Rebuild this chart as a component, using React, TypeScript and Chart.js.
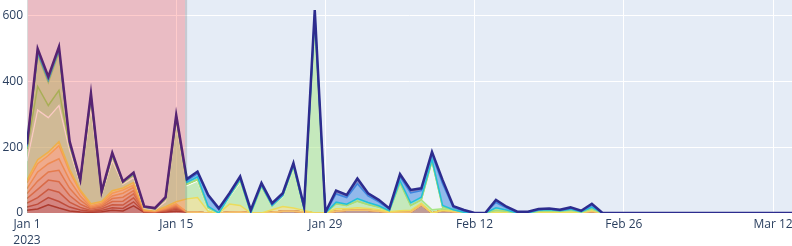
import React, { useEffect, useRef } from "react";
import { Chart, registerables } from "chart.js";

Chart.register(...registerables);

// ---- axis / layout constants ----
const X_TICKS = [0, 14, 28, 42, 56, 70];
const X_TICK_LABELS: (string | string[])[] = [["Jan 1", "2023"], "Jan 15", "Jan 29", "Feb 12", "Feb 26", "Mar 12"];
const Y_TICKS = [0, 200, 400, 600];
const X_MAX = 71.78;
const Y_MAX = 648;
const SHADE_START = 0;
const SHADE_END = 14.93;
const TAIL_DAY = 72;

// ---- series values, one value per day starting Jan 1 2023 (bottom layer first) ----
const W1 = [8, 12, 25, 15, 6, 3, 2, 4, 8, 6, 22, 2, 1, 3, 6,
  3, 2, 0, 0, 2, 3, 0, 0, 2, 5, 5, 3, 0, 0, 5, 8, 8, 8, 5, 2, 2, 3, 25, 0, 8, 4, 2, 0, 0, 3, 2, 0, 0, 2, 3, 2, 3, 1, 5, 0, 0];
const W2 = [10, 15, 22, 20, 12, 6, 3, 4, 8, 8, 12, 1, 1, 2, 5,
  0, 0, 0, 0, 0, 0, 0, 0, 0, 0, 0, 0, 0, 0, 0, 0, 0, 0, 0, 0, 0, 0, 0, 0, 0, 0, 0, 0, 0, 0, 0, 0, 0, 0, 0, 0, 0, 0, 0, 0, 0];
const W3 = [12, 20, 25, 28, 15, 8, 3, 5, 9, 10, 12, 1, 1, 2, 4,
  0, 0, 0, 0, 0, 0, 0, 0, 0, 0, 0, 0, 0, 0, 0, 0, 0, 0, 0, 0, 0, 0, 0, 0, 0, 0, 0, 0, 0, 0, 0, 0, 0, 0, 0, 0, 0, 0, 0, 0, 0];
const W4 = [14, 25, 28, 32, 20, 10, 4, 5, 10, 12, 12, 1, 1, 2, 4,
  0, 0, 0, 0, 0, 0, 0, 0, 0, 0, 0, 0, 0, 0, 0, 0, 0, 0, 0, 0, 0, 0, 0, 0, 0, 0, 0, 0, 0, 0, 0, 0, 0, 0, 0, 0, 0, 0, 0, 0, 0];
const W5 = [15, 25, 25, 35, 22, 12, 3, 4, 9, 12, 10, 1, 0, 2, 3,
  0, 0, 0, 0, 0, 0, 0, 0, 0, 0, 0, 0, 0, 0, 0, 0, 0, 0, 0, 0, 0, 0, 0, 0, 0, 0, 0, 0, 0, 0, 0, 0, 0, 0, 0, 0, 0, 0, 0, 0, 0];
const W6 = [15, 28, 25, 35, 25, 13, 3, 4, 8, 12, 10, 1, 1, 2, 3,
  0, 0, 0, 0, 0, 0, 0, 0, 0, 0, 0, 0, 0, 0, 0, 0, 0, 0, 0, 0, 0, 0, 0, 0, 0, 0, 0, 0, 0, 0, 0, 0, 0, 0, 0, 0, 0, 0, 0, 0, 0];
const W7 = [18, 25, 25, 40, 25, 13, 4, 4, 8, 10, 7, 1, 0, 2, 3,
  0, 0, 0, 0, 0, 0, 0, 0, 0, 0, 0, 0, 0, 0, 0, 0, 0, 0, 0, 0, 0, 0, 0, 0, 0, 0, 0, 0, 0, 0, 0, 0, 0, 0, 0, 0, 0, 0, 0, 0, 0];
const YEL = [8, 12, 10, 12, 8, 5, 6, 5, 8, 6, 8, 2, 2, 4, 6,
  40, 45, 5, 0, 25, 20, 0, 0, 8, 15, 10, 5, 0, 0, 8, 5, 8, 6, 5, 2, 5, 5, 5, 0, 0, 3, 0, 0, 0, 0, 0, 0, 0, 0, 0, 0, 0, 0, 3, 0, 0];
const GRN = [57, 151, 105, 110, 57, 20, 292, 20, 92, 12, 15, 4, 3, 16, 236,
  40, 50, 8, 0, 22, 70, 0, 78, 13, 30, 120, 5, 585, 0, 15, 10, 20, 12, 8, 3, 85, 15, 10, 10, 5, 3, 0, 0, 0, 5, 3, 0, 0, 3, 4, 3, 5, 2, 4, 0, 0];
const PALE = [0, 0, 0, 0, 0, 0, 0, 0, 0, 0, 0, 0, 0, 0, 0,
  0, 0, 0, 0, 0, 0, 0, 0, 0, 0, 0, 0, 0, 0, 0, 0, 0, 0, 0, 0, 0, 0, 0, 145, 5, 0, 0, 0, 0, 0, 0, 0, 0, 0, 0, 0, 0, 0, 0, 0, 0];
const GRN2 = [38, 72, 37, 46, 15, 6, 25, 5, 12, 4, 8, 3, 2, 7, 15,
  5, 5, 2, 0, 3, 5, 0, 2, 0, 3, 5, 0, 5, 0, 0, 0, 0, 0, 0, 0, 0, 0, 0, 3, 0, 0, 0, 0, 0, 0, 0, 0, 0, 0, 0, 0, 0, 0, 0, 0, 0];
const GRN3 = [4, 95, 70, 115, 3, 1, 8, 1, 3, 1, 2, 0, 0, 2, 5,
  0, 0, 0, 0, 0, 0, 0, 0, 0, 0, 0, 0, 0, 0, 0, 0, 0, 0, 0, 0, 0, 0, 0, 0, 0, 0, 0, 0, 0, 0, 0, 0, 0, 0, 0, 0, 0, 0, 0, 0, 0];
const CYAN = [3, 6, 6, 6, 3, 1, 3, 1, 2, 1, 1, 1, 1, 1, 3,
  5, 8, 5, 0, 0, 5, 0, 4, 0, 0, 4, 0, 8, 0, 5, 4, 8, 6, 4, 0, 6, 8, 8, 5, 5, 0, 0, 0, 0, 8, 4, 0, 0, 3, 3, 2, 3, 1, 5, 0, 0];
const BLUE = [3, 8, 7, 7, 4, 2, 4, 2, 3, 1, 2, 1, 1, 2, 2,
  5, 10, 30, 10, 4, 4, 5, 3, 3, 3, 4, 3, 10, 0, 25, 20, 45, 20, 12, 4, 12, 30, 20, 15, 65, 6, 4, 0, 0, 16, 6, 2, 2, 2, 2, 1, 3, 1, 6, 0, 0];
const NAVY = [4, 6, 5, 5, 3, 1, 3, 1, 3, 1, 2, 1, 1, 1, 3,
  5, 6, 5, 4, 4, 4, 4, 4, 4, 4, 4, 4, 9, 2, 10, 8, 16, 8, 6, 3, 8, 9, 7, 8, 12, 5, 3, 0, 0, 8, 4, 2, 2, 2, 2, 2, 3, 2, 5, 0, 0];

const SERIES = [
  { values: W1, color: "#9a4a3a", width: 1.5 },
  { values: W2, color: "#b0604a", width: 1.5 },
  { values: W3, color: "#c07252", width: 1.5 },
  { values: W4, color: "#d0865a", width: 1.5 },
  { values: W5, color: "#de9a62", width: 1.5 },
  { values: W6, color: "#eaae68", width: 1.5 },
  { values: W7, color: "#f4c06c", width: 1.5 },
  { values: YEL, color: "#ecdc5a", width: 1.5 },
  { values: GRN, color: "#a6e682", width: 1.5 },
  { values: PALE, color: "#f8fbf6", width: 1.5 },
  { values: GRN2, color: "#94da6c", width: 1.5 },
  { values: GRN3, color: "#a9dc78", width: 1.5 },
  { values: CYAN, color: "#22c0d8", width: 1.5 },
  { values: BLUE, color: "#3d85e0", width: 1.5 },
  { values: NAVY, color: "#2d2c8e", width: 2.5 },
];

function rgba(hex: string, a: number) {
  const n = parseInt(hex.slice(1), 16);
  return `rgba(${(n >> 16) & 255},${(n >> 8) & 255},${n & 255},${a})`;
}

const FONT = { family: "'Open Sans', sans-serif", size: 12, lineHeight: 1.3 };
const TEXT = "#2a3f5f";

const bgPlugin = {
  id: "plotBg",
  beforeDraw(chart: any) {
    const { ctx, chartArea } = chart;
    ctx.save();
    ctx.fillStyle = "#E5ECF6";
    ctx.fillRect(chartArea.left, chartArea.top, chartArea.right - chartArea.left, chartArea.bottom - chartArea.top);
    ctx.restore();
  },
};

const shadePlugin = {
  id: "shade",
  afterDatasetsDraw(chart: any) {
    const { ctx, chartArea } = chart;
    const xs = chart.scales.x;
    const x0 = xs.getPixelForValue(SHADE_START);
    const x1 = xs.getPixelForValue(SHADE_END);
    ctx.save();
    ctx.beginPath();
    ctx.rect(chartArea.left, chartArea.top, chartArea.right - chartArea.left, chartArea.bottom - chartArea.top);
    ctx.clip();
    ctx.globalAlpha = 0.2;
    ctx.fillStyle = "#ff0000";
    ctx.fillRect(x0 + 1, chartArea.top - 5, x1 - x0 - 2, chartArea.bottom - chartArea.top + 10);
    ctx.strokeStyle = "#444444";
    ctx.lineWidth = 2;
    ctx.strokeRect(x0, chartArea.top - 5, x1 - x0, chartArea.bottom - chartArea.top + 10);
    ctx.restore();
  },
};

export default function App() {
  const ref = useRef<HTMLCanvasElement | null>(null);

  useEffect(() => {
    if (!ref.current) return;
    document.body.style.overflow = "hidden";

    const n = NAVY.length;
    const cumulative: number[][] = [];
    let run = new Array(n).fill(0);
    SERIES.forEach((s) => {
      run = run.map((v: number, i: number) => v + s.values[i]);
      cumulative.push(run);
    });

    const datasets: any[] = [];
    for (let i = SERIES.length - 1; i >= 0; i--) {
      const s = SERIES[i];
      const pts = cumulative[i].map((y, d) => ({ x: d, y }));
      pts.push({ x: TAIL_DAY, y: 0 });
      datasets.push({
        data: pts,
        borderColor: s.color,
        backgroundColor: rgba(s.color, 0.5),
        borderWidth: s.width,
        pointRadius: 0,
        tension: 0,
        borderJoinStyle: "miter",
        fill: i === 0 ? "origin" : "+1",
        clip: 0,
      });
    }

    const chart = new Chart(ref.current, {
      type: "line",
      data: { datasets },
      plugins: [bgPlugin, shadePlugin],
      options: {
        animation: false,
        responsive: false,
        maintainAspectRatio: false,
        layout: { padding: 0 },
        plugins: {
          legend: { display: false },
          tooltip: { enabled: false },
          filler: { drawTime: "beforeDatasetsDraw" },
        },
        scales: {
          x: {
            type: "linear",
            min: 0,
            max: X_MAX,
            grid: { color: "#ffffff", lineWidth: 1, drawTicks: false },
            border: { display: false },
            afterBuildTicks: (s: any) => {
              s.ticks = X_TICKS.map((v) => ({ value: v }));
            },
            afterFit: (s: any) => {
              s.height = 33;
              s.paddingLeft = 0;
              s.paddingRight = 0;
            },
            ticks: {
              autoSkip: false,
              maxRotation: 0,
              padding: 4,
              color: TEXT,
              font: FONT,
              callback: (v: any) => {
                const i = X_TICKS.indexOf(Number(v));
                return i >= 0 ? X_TICK_LABELS[i] : "";
              },
            },
          },
          y: {
            type: "linear",
            min: 0,
            max: Y_MAX,
            grid: { color: "#ffffff", lineWidth: 1, drawTicks: false },
            border: { display: false },
            afterBuildTicks: (s: any) => {
              s.ticks = Y_TICKS.map((v) => ({ value: v }));
            },
            afterFit: (s: any) => {
              s.width = 27;
              s.paddingTop = 0;
              s.paddingBottom = 0;
            },
            ticks: {
              padding: 4,
              color: TEXT,
              font: FONT,
              callback: (v: any) => String(v),
            },
          },
        },
      } as any,
    });
    return () => chart.destroy();
  }, []);

  return (
    <div style={{ position: "absolute", left: 0, top: 0, width: 792, height: 246, background: "#ffffff" }}>
      <canvas ref={ref} width={792} height={246} style={{ display: "block" }} />
    </div>
  );
}
